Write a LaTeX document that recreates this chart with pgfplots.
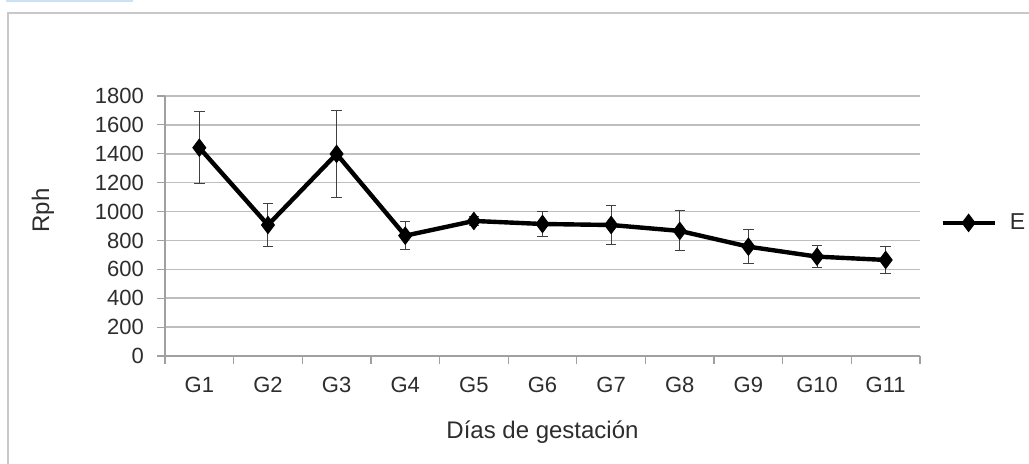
\documentclass[border=0pt]{standalone}
\usepackage{pgfplots}
\pgfplotsset{compat=1.18}
\usepackage{pgfplotstable}
\usepackage{fontspec}
\setmainfont{Liberation Sans}
\definecolor{gridc}{RGB}{190,190,190}
\definecolor{axisc}{RGB}{160,160,160}
\definecolor{txtc}{RGB}{45,45,45}
\definecolor{framec}{RGB}{200,200,200}
\definecolor{bluec}{RGB}{205,225,245}
\pgfplotstableread{
x y e
0.5 1442 250
1.5 907 147
2.5 1399 302
3.5 833 98
4.5 935 30
5.5 914 85
6.5 907 135
7.5 866 138
8.5 757 118
9.5 688 76
10.5 665 95
}\data
\begin{document}
\begin{tikzpicture}
\useasboundingbox (0,0) rectangle (514.5pt,231.5pt);
\draw[framec, line width=1pt] (4pt,-6pt) rectangle (520pt,225pt);
\draw[bluec, line width=1.2pt] (3pt,231pt) -- (66.5pt,231pt);
\begin{axis}[
  at={(82.5pt,53.5pt)}, anchor=south west,
  scale only axis, width=377.5pt, height=130pt,
  xmin=0, xmax=11, ymin=0, ymax=1800,
  axis lines*=left,
  axis line style={axisc, line width=0.7pt},
  xtick={0,...,11},
  x tick label as interval,
  xticklabels={G1,G2,G3,G4,G5,G6,G7,G8,G9,G10,G11},
  ytick={0,200,...,1800},
  tick align=outside,
  major tick length=4pt,
  tick style={axisc, line width=0.6pt},
  ymajorgrids,
  grid style={gridc, line width=0.75pt},
  /pgf/number format/assume math mode=true,
  /pgf/number format/1000 sep={},
  tick label style={font=\fontsize{11}{13}\selectfont, text=txtc},
  yticklabel style={xshift=-3pt},
  xticklabel style={yshift=-3pt},
  xlabel={Días de gestación},
  ylabel={Rph},
  label style={font=\fontsize{12}{14}\selectfont, text=txtc},
  xlabel style={at={(axis description cs:0.5,0)}, anchor=center, yshift=-38pt},
  ylabel style={at={(axis description cs:0,0.56)}, anchor=center, yshift=61pt},
  legend style={draw=none, fill=none, at={(axis description cs:1,0.512)}, anchor=west, xshift=7pt,
    font=\fontsize{11.5}{13}\selectfont, text=txtc},
  legend image code/.code={\draw[mark repeat=2,mark phase=2,#1] plot coordinates {(0pt,0pt) (13pt,0pt) (26pt,0pt)};},
]
\addplot[black, line width=2.2pt, mark=diamond*, mark size=4.3pt,
  mark options={solid, line width=0.5pt},
  error bars/.cd, y dir=both, y explicit,
  error bar style={line width=0.5pt, black!75},
  error mark options={rotate=90, mark size=2.6pt, line width=0.5pt, black!75}]
  table[x=x, y=y, y error=e] {\data};
\addlegendentry{\hspace{4.5pt}E}
\end{axis}
\end{tikzpicture}
\end{document}
